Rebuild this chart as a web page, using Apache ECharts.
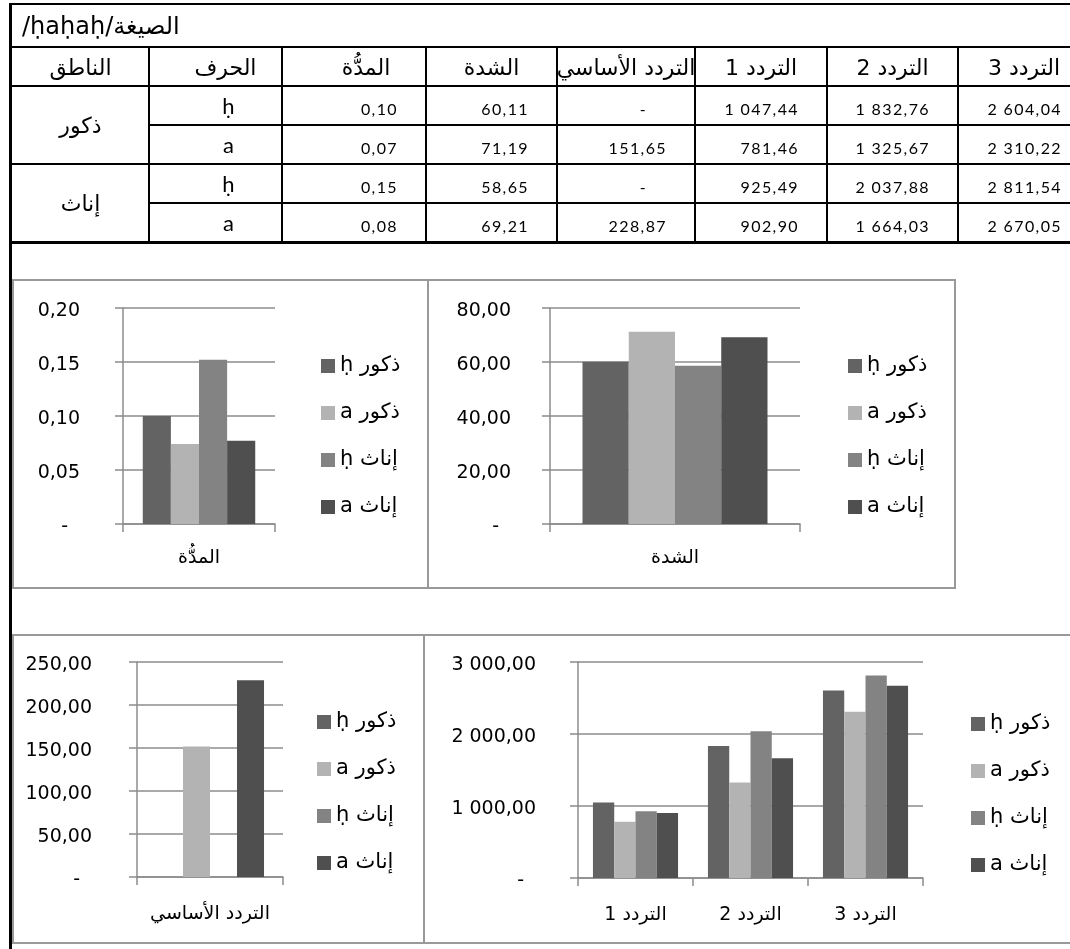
<!DOCTYPE html>
<html>
<head>
<meta charset="utf-8">
<script src="https://cdn.jsdelivr.net/npm/echarts/dist/echarts.min.js"></script>
<style>
  html, body { margin: 0; padding: 0; background: #fff; }
  body { width: 1070px; height: 949px; overflow: hidden; position: relative; }
  #chart { position: absolute; left: 0; top: 0; width: 1070px; height: 949px; }
  #sheet { position: absolute; left: 0; top: 0; width: 1070px; height: 949px; pointer-events: none; }
  .ln { position: absolute; background: #000; }
  .cell { position: absolute; display: flex; align-items: center; white-space: nowrap; color: #000; }
  .ar { font-family: "DejaVu Sans", sans-serif; font-size: 22px; justify-content: center; }
  .num { font-family: Lato, "DejaVu Sans", sans-serif; font-size: 16px; letter-spacing: 1.4px; justify-content: flex-end; }
  .let { font-family: Lato, "DejaVu Sans", sans-serif; font-size: 22px; justify-content: center; }
</style>
</head>
<body>
<div id="chart"></div>
<div id="sheet"></div>
<script>
// ---- measurements for the form /ḥaḥaḥ/ ----
const formTitle = 'الصيغة/ḥaḥaḥ/';
const tableHeaders = ['الناطق', 'الحرف', 'المدُّة', 'الشدة', 'التردد الأساسي', 'التردد 1', 'التردد 2', 'التردد 3'];
const speakers = ['ذكور', 'ذكور', 'إناث', 'إناث'];
const letters = ['ḥ', 'a', 'ḥ', 'a'];
const duration = [0.10, 0.074, 0.152, 0.077];
const intensity = [60.11, 71.19, 58.65, 69.21];
const f0 = [null, 151.65, null, 228.87];
const f1 = [1047.44, 781.46, 925.49, 902.90];
const f2 = [1832.76, 1325.67, 2037.88, 1664.03];
const f3 = [2604.04, 2310.22, 2811.54, 2670.05];

// chart categories
const durationCats = ['المدُّة'];
const intensityCats = ['الشدة'];
const f0Cats = ['التردد الأساسي'];
const formantCats = ['التردد 1', 'التردد 2', 'التردد 3'];

// value axes: [max, interval]
const durationAxis = [0.20, 0.05];
const intensityAxis = [80, 20];
const f0Axis = [250, 50];
const formantAxis = [3000, 1000];

const seriesColors = ['#636363', '#b3b3b3', '#838383', '#4f4f4f'];

// number formatting: comma decimal, space for thousands
function fmt(v, sep) {
  const parts = v.toFixed(2).split('.');
  return parts[0].replace(/\B(?=(\d{3})+(?!\d))/g, sep) + ',' + parts[1];
}

// ---------- spreadsheet table ----------
const sheet = document.getElementById('sheet');
function line(x, y, w, h) {
  const d = document.createElement('div');
  d.className = 'ln';
  Object.assign(d.style, { left: x + 'px', top: y + 'px', width: w + 'px', height: h + 'px' });
  sheet.appendChild(d);
}
function cell(cls, x, y, w, h, text, extra) {
  const d = document.createElement('div');
  d.className = 'cell ' + cls;
  Object.assign(d.style, { left: x + 'px', top: y + 'px', width: w + 'px', height: h + 'px' }, extra || {});
  d.textContent = text;
  sheet.appendChild(d);
  return d;
}

const colX = [12, 149, 282, 426, 557, 695, 827, 958, 1090];
const rowY = [86, 125, 164, 203, 242];
// horizontal nudge of each header inside its column
const headerShift = [0, 10, 12, 0, 0, 0, 0, 0];

// outer frame
line(9, 3, 1070, 2);
line(9, 3, 3, 946);
// title row (right-to-left text, laid out from the left edge)
const t = cell('ar', 22, 5, 600, 42, formTitle, { fontSize: '24px', justifyContent: 'flex-end' });
t.dir = 'rtl';
line(12, 46, 1060, 2);
// horizontal rules
line(12, 85, 1060, 2);
line(149, 124, 930, 2);
line(12, 163, 1060, 2);
line(149, 202, 930, 2);
line(12, 241, 1060, 3);
// vertical rules
for (let c = 1; c < colX.length - 1; c++) line(colX[c] - 1, 47, 2, 195);

// headers
tableHeaders.forEach((h, c) => {
  cell('ar', colX[c] + headerShift[c], 48, colX[c + 1] - colX[c], 38, h);
});
// speaker groups (merged cells)
cell('ar', 12, 86, 137, 78, speakers[0]);
cell('ar', 12, 164, 137, 78, speakers[2]);

const numCols = [duration, intensity, f0, f1, f2, f3];
letters.forEach((l, r) => {
  const y = rowY[r], h = rowY[r + 1] - rowY[r];
  cell('let', colX[1], y, colX[2] - colX[1], h, l, { paddingLeft: '26px', boxSizing: 'border-box' });
  numCols.forEach((arr, k) => {
    const c = k + 2;
    const v = arr[r];
    const txt = v == null ? '-' : fmt(v, ' ');
    cell('num', colX[c], y + 3, colX[c + 1] - colX[c], h, txt,
         { paddingRight: (v == null ? 48 : 28) + 'px', boxSizing: 'border-box' });
  });
});

// ---------- bar charts ----------
const FONT = '"DejaVu Sans", sans-serif';
const gridColor = '#8c8c8c';
const names = speakers.map((s, i) => s + ' ' + letters[i]);

const panels = [
  { cats: durationCats, rows: [duration], axis: durationAxis,
    grid: { left: 123, top: 308, width: 152, height: 216 }, legend: { left: 316, top: 350 },
    yMargin: 43, xMargin: 25 },
  { cats: intensityCats, rows: [intensity], axis: intensityAxis,
    grid: { left: 550, top: 308, width: 250, height: 216 }, legend: { left: 843, top: 350 },
    yMargin: 39, xMargin: 25 },
  { cats: f0Cats, rows: [f0], axis: f0Axis,
    grid: { left: 137, top: 662, width: 146, height: 215 }, legend: { left: 312, top: 706 },
    yMargin: 45, xMargin: 28 },
  { cats: formantCats, rows: [f1, f2, f3], axis: formantAxis,
    grid: { left: 578, top: 662, width: 345, height: 216 }, legend: { left: 966, top: 708 },
    yMargin: 42, xMargin: 28 }
];

const option = {
  animation: false,
  textStyle: { fontFamily: FONT },
  grid: panels.map(p => Object.assign({ containLabel: false }, p.grid)),
  legend: panels.map(p => ({
    orient: 'vertical',
    left: p.legend.left,
    top: p.legend.top,
    data: names,
    icon: 'rect',
    itemWidth: 14,
    itemHeight: 14,
    itemGap: 25,
    selectedMode: false,
    textStyle: { fontFamily: FONT, fontSize: 21, color: '#000', lineHeight: 22 },
    // letter on the left, speaker on the right
    formatter: n => { const s = n.split(' '); return s[1] + ' ' + s[0]; }
  })),
  xAxis: panels.map((p, k) => ({
    type: 'category',
    gridIndex: k,
    data: p.cats,
    axisLine: { show: true, lineStyle: { color: gridColor, width: 1.5 } },
    axisTick: { show: true, length: 8, lineStyle: { color: gridColor, width: 1.5 } },
    axisLabel: { color: '#000', fontFamily: FONT, fontSize: 19, margin: p.xMargin },
    splitLine: { show: false }
  })),
  yAxis: panels.map((p, k) => ({
    type: 'value',
    gridIndex: k,
    min: 0,
    max: p.axis[0],
    interval: p.axis[1],
    axisLine: { show: true, lineStyle: { color: gridColor, width: 1.5 } },
    axisTick: { show: true, length: 8, lineStyle: { color: gridColor, width: 1.5 } },
    splitLine: { show: true, lineStyle: { color: gridColor, width: 1.5 } },
    axisLabel: {
      color: '#000', fontFamily: FONT, fontSize: 19, margin: p.yMargin,
      padding: [6, 0, 0, 0],
      formatter: v => v === 0 ? '{z|-}' : fmt(v, ' '),
      rich: { z: { fontFamily: FONT, fontSize: 19, color: '#000', padding: [0, 12, 0, 0] } }
    }
  })),
  series: [],
  graphic: [
    [13, 280, 415, 308], [428, 280, 527, 308], [13, 635, 411, 308], [424, 635, 660, 308]
  ].map(r => ({
    type: 'rect', silent: true,
    shape: { x: r[0], y: r[1], width: r[2], height: r[3] },
    style: { fill: 'none', stroke: '#999', lineWidth: 2 }
  }))
};

panels.forEach((p, k) => {
  names.forEach((n, i) => {
    option.series.push({
      type: 'bar',
      name: n,
      xAxisIndex: k,
      yAxisIndex: k,
      barGap: '0%',
      barCategoryGap: '26%',
      itemStyle: { color: seriesColors[i] },
      data: p.rows.map(arr => arr[i])
    });
  });
});

const chart = echarts.init(document.getElementById('chart'), null, { renderer: 'canvas' });
chart.setOption(option);
</script>
</body>
</html>
